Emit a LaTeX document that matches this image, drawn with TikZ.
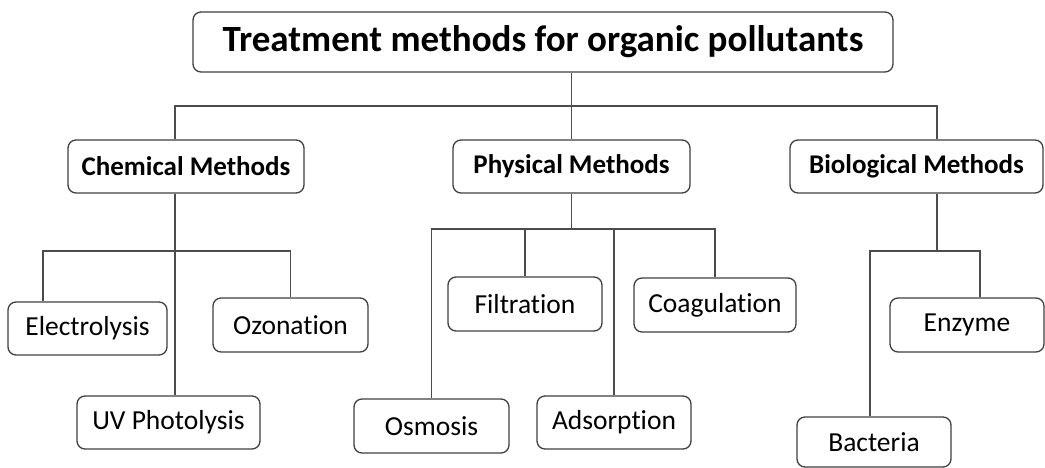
\documentclass[tikz,border=0pt]{standalone}
\usepackage{fontspec}
\setmainfont{Carlito}[Ligatures={NoCommon}]
\begin{document}
\begin{tikzpicture}[x=1pt,y=-1pt,
  box/.style={draw=black!75,line width=1.3pt,rounded corners=8pt,fill=white,inner sep=0pt,align=center},
  leaf/.style={box,font=\fontsize{27.5}{32}\selectfont,minimum height=54pt},
  mid/.style={box,font=\bfseries\fontsize{27}{32}\selectfont,minimum height=53pt},
  conn/.style={draw=black!70,line width=1.1pt}]
\useasboundingbox (0,0) rectangle (1045,468);
% nodes
\node[box,font=\bfseries\fontsize{37}{42}\selectfont,minimum width=700pt,minimum height=60pt] (title) at (543,42) {Treatment methods for organic pollutants};
\node[mid,minimum width=236pt] (chem) at (186,166.5) {Chemical Methods};
\node[mid,minimum width=237pt] (phys) at (571.5,166.5) {Physical Methods};
\node[mid,minimum width=253pt] (bio) at (916.5,166.5) {Biological Methods};
\node[leaf,minimum width=159pt,minimum height=53pt] (elec) at (87.5,328.5) {Electrolysis};
\node[leaf,minimum width=155pt] (ozo) at (290.5,325) {Ozonation};
\node[leaf,minimum width=183pt,minimum height=53pt] (uv) at (168.5,422.5) {UV Photolysis};
\node[leaf,minimum width=155pt] (osm) at (431.5,426) {Osmosis};
\node[leaf,minimum width=154pt] (filt) at (525,304) {Filtration};
\node[leaf,minimum width=154pt,minimum height=53pt] (ads) at (614,422.5) {Adsorption};
\node[leaf,minimum width=162pt] (coag) at (715,305) {Coagulation};
\node[leaf,minimum width=154pt] (enz) at (967,325) {Enzyme};
\node[leaf,minimum width=154pt,minimum height=50pt] (bact) at (874,442) {Bacteria};
% junction coordinates
\coordinate (bus0) at (571.5,106);
\coordinate (cl) at (175,0);
\coordinate (bl) at (937,0);
\coordinate (chbus) at (175,251);
\coordinate (el) at (43,0);
\coordinate (phbus) at (571.5,229);
\coordinate (bibus) at (937,251);
\coordinate (enl) at (980,0);
\coordinate (bal) at (870,0);
% connectors
\draw[conn] (title.south -| phys.north) -- (phys.north);
\draw[conn] (chem.north -| cl) |- (bus0) -| (bio.north -| bl);
\draw[conn] (chem.south -| cl) -- (uv.north -| cl);
\draw[conn] (elec.north -| el) |- (chbus) -| (ozo.north);
\draw[conn] (phys.south) -- (phbus);
\draw[conn] (osm.north) |- (phbus) -| (coag.north);
\draw[conn] (filt.north) -- (filt.north |- phbus);
\draw[conn] (ads.north) -- (ads.north |- phbus);
\draw[conn] (bio.south -| bl) -- (bibus);
\draw[conn] (bact.north -| bal) |- (bibus) -| (enz.north -| enl);
\end{tikzpicture}
\end{document}
